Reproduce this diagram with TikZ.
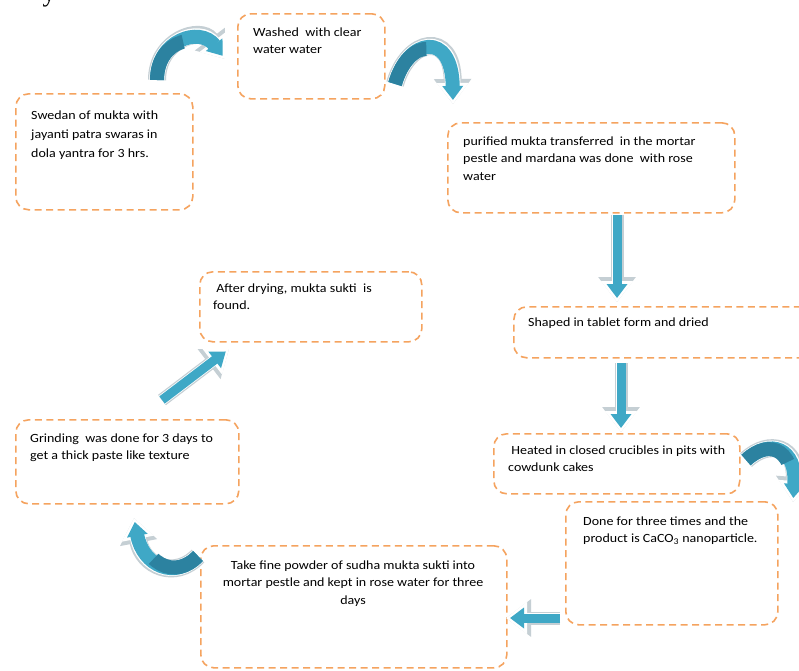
\documentclass[tikz,border=0pt]{standalone}
\usepackage{fontspec}
\setmainfont{Carlito}[FakeStretch=1.12]
\newfontfamily\fragfont{Liberation Serif}
\usetikzlibrary{arrows.meta}
\definecolor{boxorange}{HTML}{F5A35F}
\definecolor{arrowblue}{HTML}{3FA8C6}
\definecolor{arrowdark}{HTML}{2C82A0}
\definecolor{arrowrim}{HTML}{C5CFD4}
\newcommand\fancyarrow[2][9]{%
  \pgfmathsetmacro\lwA{#1+4}\pgfmathsetmacro\lwB{#1+1.5}%
  \draw[line width=\lwA pt, draw=arrowrim, -{Triangle[width=36pt,length=25pt]}] #2;
  \draw[line width=\lwB pt, draw=white, -{Triangle[width=31pt,length=21pt]}] #2;
  \draw[line width=#1pt, draw=arrowblue, shorten >=4pt, -{Triangle[width=20pt,length=14pt]}] #2;
}
\newcommand\curvedarrow[1]{%
  \fancyarrow[14]{#1}
  \draw[line width=14pt, draw=arrowdark, dash pattern=on 50pt off 2000pt] #1;
}
\begin{document}
\begin{tikzpicture}[x=1pt,y=-1pt,
  box/.style={draw=boxorange, line width=1.6pt, dash pattern=on 7pt off 4.5pt,
    rounded corners=13pt, anchor=north west, inner sep=0pt},
  txt/.style={anchor=base west, align=left, inner sep=0pt,
    font=\fontsize{12.5}{17.5}\selectfont}]
\useasboundingbox (0,0) rectangle (799,670);
\fill[white] (0,0) rectangle (799,670);

% text fragment at the top edge
\node[anchor=base, inner sep=0pt, font=\fragfont\fontsize{26}{26}\selectfont] (frag) at (49,1) {y};

% boxes
\node[box, minimum width=177pt, minimum height=116pt] (b1) at (15,93) {};
\node[box, minimum width=147pt, minimum height=85pt] (b2) at (237,13) {};
\node[box, minimum width=287pt, minimum height=90pt] (b3) at (447,122) {};
\node[box, minimum width=300pt, minimum height=51pt] (b4) at (513,306) {};
\node[box, minimum width=246pt, minimum height=60pt] (b5) at (493,433) {};
\node[box, minimum width=212pt, minimum height=123pt] (b6) at (565,501) {};
\node[box, minimum width=306pt, minimum height=122pt] (b7) at (200,545) {};
\node[box, minimum width=223pt, minimum height=84pt] (b8) at (15,419) {};
\node[box, minimum width=222pt, minimum height=70pt] (b9) at (199,271) {};

% texts (anchor = baseline of the last line)
\node[txt, font=\fontsize{12.5}{19}\selectfont] (t1) at (31,157) {Swedan of mukta with\\jayanti patra swaras in\\dola yantra for 3 hrs.};
\node[txt] (t2) at (253,53.5) {Washed \ with clear\\water water};
\node[txt] (t3) at (463,180) {purified mukta transferred \ in the mortar\\pestle and mardana was done \ with rose\\water};
\node[txt] (t4) at (528,326) {Shaped in tablet form and dried};
\node[txt] (t5) at (508,471.5) {\ Heated in closed crucibles in pits with\\cowdunk cakes};
\node[txt] (t6) at (583,542.5) {Done for three times and the\\product is CaCO\textsubscript{3} nanoparticle.};
\node[txt, anchor=base, align=center] (t7) at (353,604) {Take fine powder of sudha mukta sukti into\\mortar pestle and kept in rose water for three\\days};
\node[txt] (t8) at (30,459.5) {Grinding \ was done for 3 days to\\get a thick paste like texture};
\node[txt] (t9) at (213,309.5) {\ After drying, mukta sukti \ is\\found.};

% arrow end points
\coordinate (a1s) at (157,80);  \coordinate (a1e) at (225,59);
\coordinate (a2s) at (395,84);  \coordinate (a2e) at (453,104);
\coordinate (a3s) at (617,215); \coordinate (a3e) at (617,302);
\coordinate (a4s) at (621,363); \coordinate (a4e) at (621,432);
\coordinate (a5s) at (746,460); \coordinate (a5e) at (793,502);
\coordinate (a6s) at (560,618); \coordinate (a6e) at (506,618);
\coordinate (a7s) at (198,556); \coordinate (a7e) at (134,518);
\coordinate (a8s) at (162,400); \coordinate (a8e) at (229,349);

% arrows
\curvedarrow{(a1s) .. controls (157,40) and (200,26) .. (a1e)}
\curvedarrow{(a2s) .. controls (408,38) and (452,30) .. (a2e)}
\fancyarrow{(a3s) -- (a3e)}
\fancyarrow{(a4s) -- (a4e)}
\curvedarrow{(a5s) .. controls (770,438) and (797,448) .. (a5e)}
\fancyarrow{(a6s) -- (a6e)}
\curvedarrow{(a7s) .. controls (175,580) and (143,566) .. (a7e)}
\fancyarrow{(a8s) -- (a8e)}
\end{tikzpicture}
\end{document}
